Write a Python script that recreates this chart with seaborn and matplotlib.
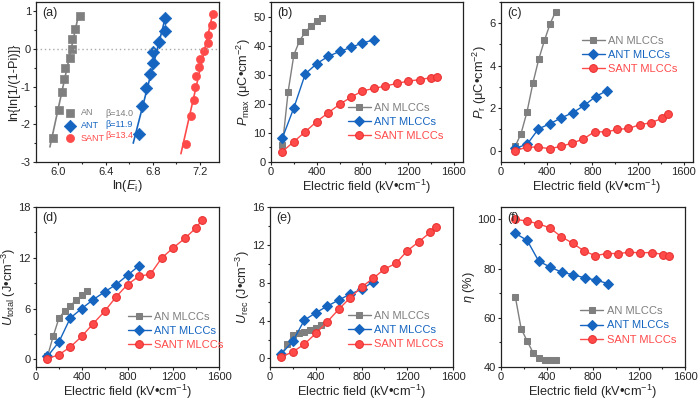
import numpy as np
import pandas as pd
import matplotlib
matplotlib.use('Agg')
import matplotlib.pyplot as plt
import seaborn as sns
from matplotlib.ticker import MultipleLocator

# ---- data ----
series = ['AN MLCCs', 'ANT MLCCs', 'SANT MLCCs']

# (a) Weibull plot
an_lnE = [5.954, 6.002, 6.027, 6.051, 6.053, 6.098, 6.115, 6.115, 6.138, 6.180]
an_wb = [-2.35, -1.61, -1.14, -0.79, -0.50, -0.24, 0.01, 0.26, 0.53, 0.87]
ant_lnE = [6.684, 6.710, 6.744, 6.779, 6.799, 6.804, 6.849, 6.904, 6.904]
ant_wb = [-2.25, -1.50, -1.03, -0.67, -0.37, -0.09, 0.19, 0.48, 0.83]
sant_lnE = [7.080, 7.123, 7.145, 7.157, 7.162, 7.191, 7.199, 7.230, 7.264, 7.264, 7.300, 7.312]
sant_wb = [-2.53, -1.79, -1.34, -1.00, -0.72, -0.48, -0.26, -0.05, 0.16, 0.38, 0.63, 0.94]
betas = ['β=14.0', 'β=11.9', 'β=13.4']

# electric field values (kV/cm)
an_E = [100, 150, 200, 250, 300, 350, 400, 450]
ant_E = [100, 200, 300, 400, 500, 600, 700, 800, 900]
sant_E = [100, 200, 300, 400, 500, 600, 700, 800, 900, 1000, 1100, 1200, 1300, 1400, 1450]
# panels (c) and (f) are plotted at slightly shifted fields
an_E2 = [125, 175, 228, 280, 330, 380, 430, 478]
ant_E2 = [125, 228, 328, 428, 528, 628, 728, 828, 928]
sant_E2 = [125, 225, 325, 425, 522, 622, 720, 820, 918, 1016, 1115, 1213, 1312, 1410, 1462]

# (b) Pmax
an_pmax = [5.8, 24.2, 36.8, 41.7, 44.6, 46.8, 48.4, 49.6]
ant_pmax = [8.3, 18.6, 30.3, 33.8, 36.3, 38.0, 39.4, 40.9, 42.0]
sant_pmax = [3.6, 7.0, 10.4, 13.9, 16.9, 19.8, 22.3, 24.4, 25.3, 26.1, 27.0, 27.8, 28.3, 29.0, 29.2]

# (c) Pr
an_pr = [0.22, 0.80, 1.84, 3.20, 4.30, 5.19, 5.98, 6.55]
ant_pr = [0.12, 0.30, 1.03, 1.27, 1.55, 1.79, 2.13, 2.55, 2.83]
sant_pr = [0.0, 0.17, 0.17, 0.10, 0.20, 0.36, 0.55, 0.90, 0.88, 1.00, 1.05, 1.22, 1.32, 1.52, 1.72]

# (d) Utotal
an_utot = [0.35, 2.72, 4.85, 5.72, 6.35, 6.98, 7.57, 8.09]
ant_utot = [0.35, 2.05, 4.89, 6.00, 7.06, 7.97, 8.84, 9.94, 11.05]
sant_utot = [0.08, 0.55, 1.46, 2.72, 4.22, 5.68, 7.38, 8.84, 9.82, 10.06, 11.99, 13.18, 14.28, 15.54, 16.45]

# (e) Urec
an_urec = [0.35, 1.51, 2.46, 2.64, 2.82, 2.99, 3.24, 3.52]
ant_urec = [0.49, 1.83, 4.05, 4.82, 5.53, 6.16, 6.80, 7.29, 8.10]
sant_urec = [0.18, 0.70, 1.51, 2.64, 3.87, 5.18, 6.41, 7.54, 8.45, 9.44, 10.04, 11.37, 12.32, 13.31, 13.91]

# (f) efficiency
an_eta = [68.4, 55.6, 50.5, 45.7, 43.7, 42.9, 42.7, 42.7]
ant_eta = [94.3, 91.4, 83.0, 80.6, 78.5, 77.5, 76.2, 75.3, 73.9]
sant_eta = [100.0, 99.3, 98.2, 96.5, 93.0, 90.3, 87.2, 85.2, 86.1, 86.1, 86.6, 86.4, 86.5, 85.7, 84.9]

# ---- style ----
GRAY, BLUE, RED = '#7f7f7f', '#1565c0', '#ff4a4a'
colors = [GRAY, BLUE, RED]
mk = [dict(marker='s', markersize=4.6, markeredgecolor=GRAY),
      dict(marker='D', markersize=4.6, markeredgecolor=BLUE),
      dict(marker='o', markersize=5.6, markeredgecolor='#e83030')]

sns.set_theme(style='ticks')
plt.rcParams['font.family'] = ['Liberation Sans', 'DejaVu Sans']
plt.rcParams['mathtext.fontset'] = 'custom'
plt.rcParams['mathtext.rm'] = 'Liberation Sans'
plt.rcParams['mathtext.it'] = 'Liberation Sans:italic'
plt.rcParams['axes.unicode_minus'] = False

W, H = 698, 400
fig = plt.figure(figsize=(W / 100, H / 100), dpi=100)
fig.patch.set_facecolor('white')


def make_ax(x0, y0, x1, y1):
    ax = fig.add_axes([x0 / W, 1 - y1 / H, (x1 - x0) / W, (y1 - y0) / H])
    for s in ax.spines.values():
        s.set_linewidth(0.9)
        s.set_color('#222222')
    ax.tick_params(which='major', direction='out', length=2.5, width=0.8, labelsize=8, pad=1.2)
    ax.tick_params(which='minor', direction='out', length=1.5, width=0.8)
    return ax


def field_panel(ax, xs, ys, ylabel, ylim, ystep, xlim, legpos, letter):
    for i in range(3):
        sns.lineplot(x=xs[i], y=ys[i], ax=ax, color=colors[i], linewidth=1.0,
                     sort=False, label=series[i], **mk[i])
    ax.set_xlim(*xlim)
    ax.set_ylim(*ylim)
    ax.xaxis.set_major_locator(MultipleLocator(400))
    ax.xaxis.set_minor_locator(MultipleLocator(200))
    ax.yaxis.set_major_locator(MultipleLocator(ystep))
    ax.yaxis.set_minor_locator(MultipleLocator(ystep / 2))
    ax.set_xlabel('Electric field (kV•cm$^{-1}$)', fontsize=9.2, labelpad=0.5)
    ax.set_ylabel(ylabel, fontsize=9.2, labelpad=0.5)
    leg = ax.legend(loc='upper left', bbox_to_anchor=legpos, frameon=False, fontsize=8,
                    handlelength=2.1, handletextpad=0.3, labelspacing=0.38,
                    borderpad=0, borderaxespad=0)
    for t, c in zip(leg.get_texts(), colors):
        t.set_color(c)
    ax.text(0.035, 0.97, letter, transform=ax.transAxes, fontsize=9, va='top', ha='left')


# (a)
ax = make_ax(36, 2, 219, 162)
ax.axhline(0, color='#aaaaaa', linestyle=(0, (1, 2)), linewidth=1)
wb_x = [an_lnE, ant_lnE, sant_lnE]
wb_y = [an_wb, ant_wb, sant_wb]
a_mk = [dict(marker='s', s=30), dict(marker='D', s=40), dict(marker='o', s=34)]
for i in range(3):
    k, b = np.polyfit(wb_x[i], wb_y[i], 1)
    y_fit = np.array([min(wb_y[i]) - 0.25, max(wb_y[i]) + 0.05])
    sns.lineplot(x=(y_fit - b) / k, y=y_fit, ax=ax, color=colors[i], linewidth=1.2, sort=False)
    sns.scatterplot(x=wb_x[i], y=wb_y[i], ax=ax, color=colors[i], edgecolor=colors[i],
                    linewidth=0.5, label=series[i].split()[0], **a_mk[i])
ax.set_xlim(5.81, 7.36)
ax.set_ylim(-3, 1.25)
ax.xaxis.set_major_locator(MultipleLocator(0.4))
ax.xaxis.set_minor_locator(MultipleLocator(0.2))
ax.yaxis.set_major_locator(MultipleLocator(1))
ax.yaxis.set_minor_locator(MultipleLocator(0.5))
ax.set_xlabel('ln($E_\\mathrm{i}$)', fontsize=9.2, labelpad=0.5)
ax.set_ylabel('ln{ln[1/(1-Pi)]}', fontsize=9.2, labelpad=0.5)
leg = ax.legend(loc='upper left', bbox_to_anchor=(0.16, 0.335), frameon=False, fontsize=6.5,
                handlelength=1.0, handletextpad=0.7, labelspacing=0.4,
                borderpad=0, borderaxespad=0)
for t, c in zip(leg.get_texts(), colors):
    t.set_color(c)
for i, yy in enumerate([0.30, 0.233, 0.166]):
    ax.text(0.38, yy, betas[i], transform=ax.transAxes, fontsize=6.5, color=colors[i], va='center')
ax.text(0.035, 0.97, '(a)', transform=ax.transAxes, fontsize=9, va='top', ha='left')

# (b)
ax = make_ax(271, 2, 463, 162)
field_panel(ax, [an_E, ant_E, sant_E], [an_pmax, ant_pmax, sant_pmax],
            '$P_\\mathrm{max}$ (μC•cm$^{-2}$)', (0, 55), 10, (0, 1680), (0.40, 0.37), '(b)')

# (c)
ax = make_ax(501, 2, 693, 162)
field_panel(ax, [an_E2, ant_E2, sant_E2], [an_pr, ant_pr, sant_pr],
            '$P_\\mathrm{r}$ (μC•cm$^{-2}$)', (-0.53, 7.0), 2, (0, 1680), (0.42, 0.79), '(c)')

# (d)
ax = make_ax(36, 207, 219, 367)
field_panel(ax, [an_E, ant_E, sant_E], [an_utot, ant_utot, sant_utot],
            '$U_\\mathrm{total}$ (J•cm$^{-3}$)', (-0.9, 18), 6, (0, 1600), (0.50, 0.345), '(d)')

# (e)
ax = make_ax(270, 207, 453, 367)
field_panel(ax, [an_E, ant_E, sant_E], [an_urec, ant_urec, sant_urec],
            '$U_\\mathrm{rec}$ (J•cm$^{-3}$)', (-0.9, 16), 4, (0, 1600), (0.425, 0.35), '(e)')

# (f)
ax = make_ax(501, 207, 685, 367)
field_panel(ax, [an_E2, ant_E2, sant_E2], [an_eta, ant_eta, sant_eta],
            '$\\eta$ (%)', (40, 105), 20, (0, 1600), (0.43, 0.38), '(f)')

fig.savefig('out.png', dpi=100)
